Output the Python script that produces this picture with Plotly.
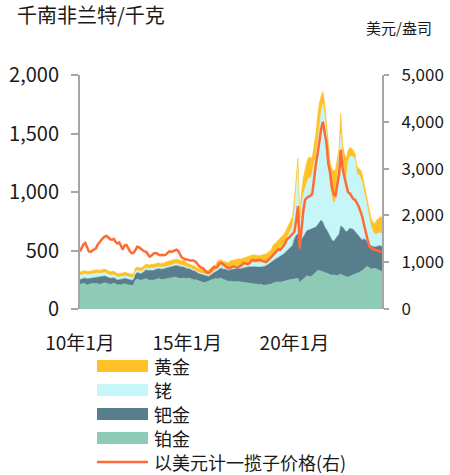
import plotly.graph_objects as go
import pandas as pd

# ---------------- data ----------------
start_month = "2010-01-01"
n_months = 170  # Jan 2010 .. Feb 2024

# cumulative stack tops, thousand ZAR / kg (left axis)
platinum_top = [
    210,215,220,215,205,210,215,220,215,220,215,210,
    215,220,225,220,215,210,215,220,215,205,210,205,
    210,215,210,205,200,200,205,245,255,250,245,250,
    255,260,250,245,248,245,250,255,260,255,250,255,
    258,262,265,262,268,272,270,265,260,262,265,260,
    262,265,258,252,248,250,242,238,232,228,225,232,
    238,245,252,258,262,255,265,262,255,250,240,235,
    238,235,238,232,235,232,228,225,222,220,222,220,
    218,215,212,208,210,212,205,202,205,208,210,212,
    222,225,228,232,228,230,235,240,245,248,250,252,
    258,262,262,222,245,255,270,285,280,275,285,298,
    318,330,328,320,318,312,305,298,292,288,292,288,
    285,292,298,288,282,278,272,280,288,295,300,305,
    310,318,328,340,355,365,352,342,345,348,342,335,
    325,320,
]
palladium_top = [
    252,258,262,266,258,258,262,266,268,272,276,272,
    276,282,282,276,268,262,266,266,258,248,252,252,
    256,262,258,252,246,246,250,298,312,308,302,310,
    325,335,330,328,330,328,335,342,345,342,340,345,
    350,355,360,362,365,368,372,368,360,358,360,352,
    345,345,335,330,325,320,305,300,295,290,285,285,
    278,288,302,312,318,330,345,350,340,342,335,330,
    335,338,342,340,345,348,345,350,352,355,360,360,
    362,365,362,358,355,358,360,362,368,378,390,400,
    412,422,432,440,448,458,470,485,500,510,525,545,
    600,630,640,500,590,620,650,670,675,680,685,690,
    700,720,745,760,740,700,680,650,620,590,580,600,
    615,640,710,700,680,660,670,690,685,680,660,640,
    620,600,590,600,590,570,550,540,535,530,535,540,
    540,535,
]
rhodium_top = [
    288,294,298,300,292,292,296,300,302,306,308,302,
    306,312,312,304,294,288,292,292,282,272,274,274,
    278,284,280,274,268,268,270,318,330,325,320,328,
    342,352,348,345,350,348,355,360,362,358,356,360,
    362,367,372,376,380,384,388,383,374,372,374,366,
    356,356,346,341,336,330,315,310,305,300,296,296,
    290,300,315,325,332,365,375,378,360,362,355,350,
    355,360,365,365,370,375,372,378,380,385,392,395,
    398,402,400,396,393,396,400,402,408,418,432,445,
    462,478,495,510,520,535,555,580,610,640,670,710,
    850,1050,1220,690,880,980,1040,1080,1120,1120,1160,1250,
    1300,1450,1560,1680,1750,1650,1500,1250,1050,950,900,930,
    1150,1280,1500,1250,1150,1100,1250,1300,1310,1300,1280,1150,
    1150,1120,1080,1000,940,850,760,700,660,640,640,650,
    650,645,
]
gold_top = [
    316,322,326,328,320,320,324,328,330,334,336,330,
    336,342,342,334,324,318,322,322,312,302,304,304,
    308,314,310,304,298,298,300,348,360,355,350,358,
    374,384,380,377,382,380,387,392,394,390,388,392,
    402,407,412,416,420,424,428,423,414,412,414,406,
    388,388,378,373,368,362,347,342,337,332,328,328,
    335,345,360,370,377,410,420,423,405,407,400,395,
    410,415,420,420,425,430,427,433,435,440,447,450,
    460,464,462,458,455,458,462,464,470,480,494,507,
    542,558,575,590,600,615,635,660,690,720,750,790,
    940,1150,1290,780,1000,1120,1200,1260,1300,1290,1300,1400,
    1500,1650,1760,1820,1858,1750,1600,1400,1250,1200,1180,1190,
    1300,1380,1673,1400,1330,1280,1350,1380,1374,1360,1320,1220,
    1200,1190,1150,1080,1020,920,840,770,740,730,760,770,
    790,780,
]
# basket price, USD / oz (right axis)
basket_usd = [
    1230,1300,1380,1410,1300,1230,1220,1250,1270,1300,1380,1440,
    1480,1520,1550,1560,1520,1490,1480,1500,1430,1400,1420,1330,
    1270,1360,1370,1300,1230,1195,1200,1260,1330,1320,1290,1250,
    1230,1220,1170,1120,1140,1180,1195,1190,1160,1150,1160,1150,
    1160,1190,1230,1220,1240,1260,1266,1240,1150,1100,1080,1060,
    1060,1050,1030,1040,1030,1000,950,900,880,870,820,780,
    770,800,860,900,880,900,970,990,960,930,900,870,
    880,900,910,900,890,910,920,960,980,970,960,980,
    1040,1050,1030,1040,1050,1050,1030,1010,1000,1030,1080,1110,
    1150,1200,1250,1280,1260,1300,1350,1420,1500,1520,1560,1590,
    1650,1900,2200,1300,1750,2100,2330,2380,2400,2420,2470,2800,
    3100,3330,3600,3850,4000,3800,3540,3100,2900,2600,2450,2420,
    2620,2900,3400,3000,2830,2650,2500,2470,2400,2350,2330,2260,
    2190,2080,1977,1800,1621,1480,1337,1300,1280,1266,1250,1240,
    1230,1220,
]

x_tick_vals = ["2010-01-01", "2015-01-01", "2020-01-01"]
x_tick_text = ["10年1月", "15年1月", "20年1月"]
left_ticks = [0, 500, 1000, 1500, 2000]
right_ticks = [0, 1000, 2000, 3000, 4000, 5000]

series_names = ["黄金", "铑", "钯金", "铂金", "以美元计一揽子价格(右)"]

# ---------------- style ----------------
C_GOLD = "#FFC125"
C_RH = "#C6F6F8"
C_PD = "#587D8C"
C_PT = "#8DCBB7"
C_LINE = "#FF6B35"
C_AXIS = "#A6A6A6"
FONT = "Noto Sans CJK SC"
TXT = "#1a1a1a"

months = pd.date_range(start_month, periods=n_months, freq="MS")

fig = go.Figure()
stack = [
    (platinum_top, C_PT, "铂金", "tozeroy"),
    (palladium_top, C_PD, "钯金", "tonexty"),
    (rhodium_top, C_RH, "铑", "tonexty"),
    (gold_top, C_GOLD, "黄金", "tonexty"),
]
for vals, col, name, fill in stack:
    fig.add_trace(go.Scatter(
        x=months, y=vals, mode="lines", name=name, fill=fill,
        fillcolor=col, line=dict(color=col, width=0.6),
        showlegend=False, hoverinfo="skip"))

fig.add_trace(go.Scatter(
    x=months, y=basket_usd, mode="lines", name=series_names[4], yaxis="y2",
    line=dict(color=C_LINE, width=2.5), showlegend=False))

# plot area in pixels
L, R, T, B = 80, 382, 75, 309
W, H = 450, 475


def px(x):
    return (x - L) / (R - L)


def py(y):
    return (B - y) / (B - T)


axis_common = dict(
    showline=True, linecolor=C_AXIS, linewidth=2, ticks="outside",
    tickcolor=C_AXIS, tickwidth=2, showgrid=False, zeroline=False,
    tickformat=",d", fixedrange=True, automargin=False)

fig.update_layout(
    width=W, height=H,
    margin=dict(l=L, r=W - R, t=T, b=H - B, pad=0, autoexpand=False),
    paper_bgcolor="white", plot_bgcolor="white",
    font=dict(family=FONT, color=TXT),
    showlegend=False,
    xaxis=dict(
        type="date", range=[months[0], months[-1]],
        tickvals=x_tick_vals, ticktext=x_tick_text, ticks="",
        showline=False, showgrid=False, zeroline=False, automargin=False,
        fixedrange=True,
        tickfont=dict(size=19, color=TXT, family=FONT),
        ticklabelstandoff=21),
    yaxis=dict(
        range=[0, 2000], tickvals=left_ticks, ticklen=7,
        tickfont=dict(size=20, color=TXT, family=FONT),
        ticklabelstandoff=8, **axis_common),
    yaxis2=dict(
        range=[0, 5000], tickvals=right_ticks, ticklen=5,
        overlaying="y", side="right",
        tickfont=dict(size=17, color=TXT, family=FONT),
        ticklabelstandoff=9, **axis_common),
)

annotations = [
    dict(text="千南非兰特/千克", x=px(15), y=py(14), xanchor="left",
         yanchor="middle", font=dict(size=20, color=TXT, family=FONT)),
    dict(text="美元/盎司", x=px(434), y=py(27), xanchor="right",
         yanchor="middle", font=dict(size=15, color=TXT, family=FONT)),
]
shapes = []

# legend (drawn as shapes + text below the plot)
legend_rows = [
    (series_names[0], C_GOLD, 366, "box"),
    (series_names[1], C_RH, 390, "box"),
    (series_names[2], C_PD, 414, "box"),
    (series_names[3], C_PT, 438, "box"),
    (series_names[4], C_LINE, 462, "line"),
]
sw_x0, sw_x1, txt_x = 97, 148, 153
for name, col, yc, kind in legend_rows:
    if kind == "box":
        shapes.append(dict(type="rect", xref="paper", yref="paper",
                           x0=px(sw_x0), x1=px(sw_x1),
                           y0=py(yc + 6), y1=py(yc - 6),
                           fillcolor=col, line=dict(width=0)))
    else:
        shapes.append(dict(type="line", xref="paper", yref="paper",
                           x0=px(sw_x0), x1=px(sw_x1), y0=py(yc), y1=py(yc),
                           line=dict(color=col, width=2.5)))
    annotations.append(dict(text=name, x=px(txt_x), y=py(yc),
                            xanchor="left", yanchor="middle", borderpad=0,
                            font=dict(size=18, color=TXT, family=FONT)))

for a in annotations:
    a.update(xref="paper", yref="paper", showarrow=False)

fig.update_layout(annotations=annotations, shapes=shapes)

# remove the browser's default 8px body margin so the figure fills the window
fig.write_html("out.html",
               config={"displayModeBar": False, "staticPlot": True},
               post_script="document.body.style.margin='0';"
                           "document.documentElement.style.overflow='hidden';")
